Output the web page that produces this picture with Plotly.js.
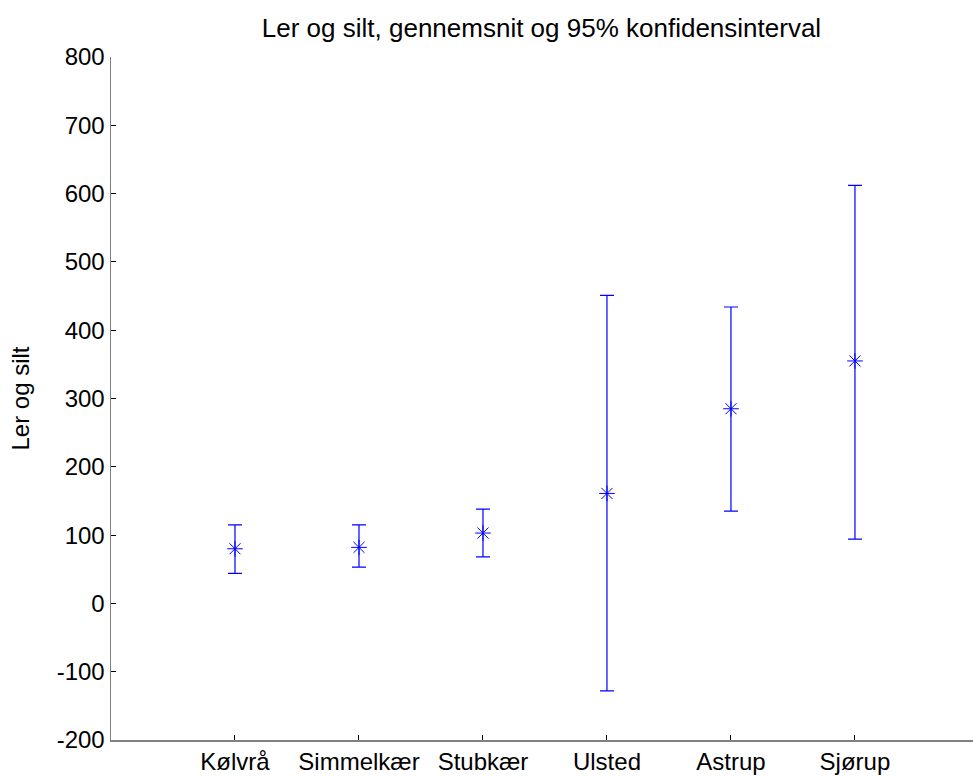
<!DOCTYPE html>
<html>
<head>
<meta charset="utf-8">
<script src="https://cdn.plot.ly/plotly-3.0.1.min.js"></script>
<style>html,body{margin:0;padding:0;background:#fff;overflow:hidden;}</style>
</head>
<body>
<div id="chart" style="width:973px;height:776px;"></div>
<script>
const categories = ["Kølvrå", "Simmelkær", "Stubkær", "Ulsted", "Astrup", "Sjørup"];
const means = [80, 82, 103, 161, 285, 355];
const upper = [115, 115, 138, 451, 434, 612];
const lower = [44, 53, 68, -128, 135, 94];
const yTickVals = [-200, -100, 0, 100, 200, 300, 400, 500, 600, 700, 800];
const yTickText = ["-200", "-100", "0", "100", "200", "300", "400", "500", "600", "700", "800"];

const xpos = categories.map((c, i) => i + 1);

const trace = {
  x: xpos,
  y: means,
  type: "scatter",
  mode: "markers",
  marker: {symbol: "asterisk-open", size: 13, color: "#0000ff", line: {color: "#0000ff", width: 1}},
  error_y: {
    type: "data",
    symmetric: false,
    array: upper.map((u, i) => u - means[i]),
    arrayminus: means.map((m, i) => m - lower[i]),
    color: "#0000ff",
    thickness: 1.2,
    width: 7
  },
  hoverinfo: "skip"
};

const font = {family: "Liberation Sans, Arial, Helvetica, sans-serif", size: 24, color: "#000"};
const titleFont = {family: "Liberation Sans, Arial, Helvetica, sans-serif", size: 26, color: "#000"};

const layout = {
  width: 973,
  height: 776,
  margin: {l: 111, r: 0, t: 57, b: 36, pad: 0},
  paper_bgcolor: "#fff",
  plot_bgcolor: "#fff",
  showlegend: false,
  font: font,
  title: {
    text: "Ler og silt, gennemsnit og 95% konfidensinterval",
    font: titleFont,
    x: 0.5565, xanchor: "center",
    y: 0.964, yanchor: "middle"
  },
  xaxis: {
    range: [0, 6.952],
    tickmode: "array",
    tickvals: xpos,
    ticktext: categories,
    ticks: "inside",
    ticklen: 5,
    tickcolor: "#000",
    tickwidth: 1,
    showline: true,
    linecolor: "#808080",
    linewidth: 1.5,
    showgrid: false,
    zeroline: false,
    tickfont: font,
    fixedrange: true
  },
  yaxis: {
    range: [-200, 800],
    tickmode: "array",
    tickvals: yTickVals,
    ticktext: yTickText,
    ticks: "inside",
    ticklen: 5,
    tickcolor: "#000",
    tickwidth: 1,
    showline: true,
    linecolor: "#808080",
    linewidth: 1.5,
    showgrid: false,
    zeroline: false,
    tickfont: font,
    ticklabelstandoff: 0,
    title: {text: "Ler og silt", font: font, standoff: 20},
    fixedrange: true
  }
};

Plotly.newPlot("chart", [trace], layout, {displayModeBar: false, staticPlot: true});
</script>
</body>
</html>
